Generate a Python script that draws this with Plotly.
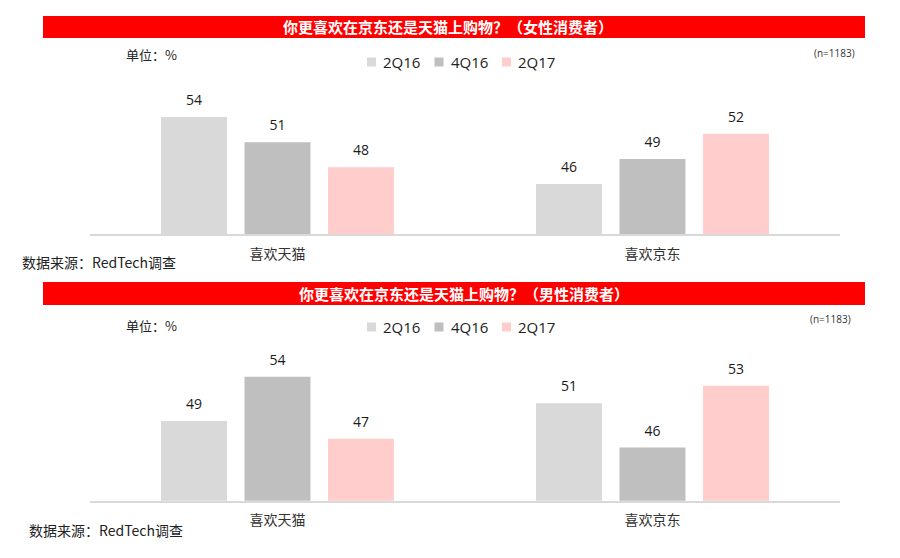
import plotly.graph_objects as go

# ---------------- data ----------------
categories = ["喜欢天猫", "喜欢京东"]
series_names = ["2Q16", "4Q16", "2Q17"]
female_2q16 = [54, 46]
female_4q16 = [51, 49]
female_2q17 = [48, 52]
male_2q16 = [49, 51]
male_4q16 = [54, 46]
male_2q17 = [47, 53]
panel_titles = ["你更喜欢在京东还是天猫上购物？（女性消费者）",
                "你更喜欢在京东还是天猫上购物？（男性消费者）"]
unit_text = "单位：%"
n_text = "(n=1183)"
source_text = "数据来源：RedTech调查"

# ---------------- style ----------------
colors = ["#d9d9d9", "#bfbfbf", "#ffcdcc"]
CJK = "Noto Sans CJK SC"
NUM = "Open Sans"
W, H = 900, 558


def py(px):
    return 1 - px / H


def pxx(px):
    return px / W


panels = [
    dict(xa="x", ya="y", data=[female_2q16, female_4q16, female_2q17]),
    dict(xa="x2", ya="y2", data=[male_2q16, male_4q16, male_2q17]),
]

fig = go.Figure()
for p in panels:
    for j, (name, vals) in enumerate(zip(series_names, p["data"])):
        fig.add_trace(go.Bar(
            x=categories, y=vals, name=name,
            marker=dict(color=colors[j], line=dict(width=0)),
            offsetgroup=str(j), xaxis=p["xa"], yaxis=p["ya"],
            showlegend=False, hoverinfo="skip",
        ))
    for j, vals in enumerate(p["data"]):
        fig.add_trace(go.Scatter(
            x=categories, y=vals, mode="markers+text",
            text=[str(v) for v in vals], textposition="top center",
            textfont=dict(family=NUM, size=14, color="#1a1a1a"),
            marker=dict(size=12, opacity=0),
            offsetgroup=str(j), xaxis=p["xa"], yaxis=p["ya"],
            showlegend=False, hoverinfo="skip", cliponaxis=False,
        ))

xcommon = dict(showline=True, linecolor="#d9d9d9", linewidth=1.5,
               showgrid=False, zeroline=False, ticks="",
               ticklabelstandoff=6,
               tickfont=dict(family=CJK, size=14, color="#333333"),
               fixedrange=True)
ycommon = dict(range=[40, 56], visible=False, fixedrange=True)

shapes = []
annotations = []
banner_rows = [(16, 38, 448), (282, 305, 464)]
unit_y = [55, 325]
legend_y = [62, 327]
legend_x0, legend_step, swatch, text_gap = 367, 67.5, 9, 14
n_pos = [(834, 53), (830, 319)]
src_pos = [(20, 262), (27, 530)]
for i, (t, b, cx) in enumerate(banner_rows):
    shapes.append(dict(type="rect", xref="paper", yref="paper",
                       x0=pxx(43), x1=pxx(865), y0=py(b), y1=py(t),
                       fillcolor="#ff0000", line=dict(width=0), layer="below"))
    annotations.append(dict(text="<b>" + panel_titles[i] + "</b>", xref="paper",
                            yref="paper", x=pxx(cx), y=py((t + b) / 2),
                            xanchor="center", yanchor="middle", showarrow=False,
                            font=dict(family=CJK, size=15, color="white")))
    annotations.append(dict(text=unit_text, xref="paper", yref="paper",
                            x=pxx(124), y=py(unit_y[i]), xanchor="left",
                            yanchor="middle", showarrow=False,
                            font=dict(family=CJK, size=13, color="#222222")))
    annotations.append(dict(text=n_text, xref="paper", yref="paper",
                            x=pxx(n_pos[i][0]), y=py(n_pos[i][1]), xanchor="center",
                            yanchor="middle", showarrow=False,
                            font=dict(family=NUM, size=10, color="#333333")))
    annotations.append(dict(text=source_text, xref="paper", yref="paper",
                            x=pxx(src_pos[i][0]), y=py(src_pos[i][1]),
                            xanchor="left", yanchor="middle", showarrow=False,
                            font=dict(family=CJK, size=14, color="#222222")))
    # legend (swatch + label per series)
    for j, name in enumerate(series_names):
        lx = legend_x0 + j * legend_step
        ly = legend_y[i]
        shapes.append(dict(type="rect", xref="paper", yref="paper",
                           x0=pxx(lx), x1=pxx(lx + swatch),
                           y0=py(ly + swatch / 2), y1=py(ly - swatch / 2),
                           fillcolor=colors[j], line=dict(width=0)))
        annotations.append(dict(text=name, xref="paper", yref="paper",
                                x=pxx(lx + text_gap), y=py(ly), xanchor="left",
                                yanchor="middle", showarrow=False,
                                font=dict(family=NUM, size=15, color="#222222")))

fig.update_layout(
    width=W, height=H, autosize=False,
    margin=dict(l=0, r=0, t=0, b=0),
    paper_bgcolor="white", plot_bgcolor="white",
    barmode="group", bargap=0.332, bargroupgap=0.21,
    scattermode="group", scattergap=0.332,
    showlegend=False,
    xaxis=dict(domain=[0.1, 0.9333], anchor="y", **xcommon),
    yaxis=dict(domain=[py(234.3), py(100.3)], anchor="x", **ycommon),
    xaxis2=dict(domain=[0.1, 0.9333], anchor="y2", **xcommon),
    yaxis2=dict(domain=[py(500.7), py(359.1)], anchor="x2", **ycommon),
    shapes=shapes, annotations=annotations,
)

fig.write_html("out.html", config={"displayModeBar": False},
               post_script="document.body.style.margin='0';"
                           "document.body.style.overflow='hidden';")
